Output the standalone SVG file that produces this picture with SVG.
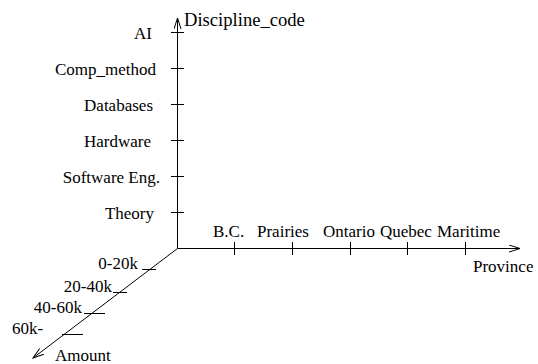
<svg xmlns="http://www.w3.org/2000/svg" width="538" height="364" viewBox="0 0 538 364">
<style>
  .t { font-family: "Liberation Serif", "Times New Roman", serif; font-size: 17px; fill: #000; }
  .big { font-size: 18.6px; }
  .end { text-anchor: end; }
  .ax { stroke: #000; stroke-width: 1; fill: none; }
  .tk { stroke: #000; stroke-width: 1; fill: none; }
</style>
<defs>
  <marker id="arr" viewBox="0 0 12 8" refX="11" refY="4" markerWidth="12" markerHeight="8" markerUnits="userSpaceOnUse" orient="auto">
    <path d="M0,0.5 L11,4 L0,7.5" fill="none" stroke="#000" stroke-width="1"/>
  </marker>
</defs>
<g id="connectors">
  <line class="ax" x1="177.5" y1="248.5" x2="177.5" y2="18" marker-end="url(#arr)"/>
  <line class="ax" x1="177.5" y1="248.5" x2="520" y2="248.5" marker-end="url(#arr)"/>
  <line class="ax" x1="177.5" y1="248.5" x2="33" y2="358" marker-end="url(#arr)"/>
</g>
<g id="axis-discipline">
  <text class="t big" x="184" y="26">Discipline_code</text>
  <g class="tk">
    <line x1="171" y1="32.5" x2="184" y2="32.5"/>
    <line x1="171" y1="68.5" x2="184" y2="68.5"/>
    <line x1="171" y1="104.5" x2="184" y2="104.5"/>
    <line x1="171" y1="140.5" x2="184" y2="140.5"/>
    <line x1="171" y1="176.5" x2="184" y2="176.5"/>
    <line x1="171" y1="212.5" x2="184" y2="212.5"/>
  </g>
  <text class="t end" x="152" y="39">AI</text>
  <text class="t end" x="156" y="75">Comp_method</text>
  <text class="t end" x="153" y="111">Databases</text>
  <text class="t end" x="151" y="147">Hardware</text>
  <text class="t end" x="160" y="183">Software Eng.</text>
  <text class="t end" x="154" y="219">Theory</text>
</g>
<g id="axis-province">
  <g class="tk">
    <line x1="234.5" y1="242" x2="234.5" y2="255"/>
    <line x1="292.5" y1="242" x2="292.5" y2="255"/>
    <line x1="350.5" y1="242" x2="350.5" y2="255"/>
    <line x1="407.5" y1="242" x2="407.5" y2="255"/>
    <line x1="465.5" y1="242" x2="465.5" y2="255"/>
  </g>
  <text class="t" x="213" y="237">B.C.</text>
  <text class="t" x="257" y="237">Prairies</text>
  <text class="t" x="323" y="237">Ontario</text>
  <text class="t" x="380" y="237">Quebec</text>
  <text class="t" x="437" y="237">Maritime</text>
  <text class="t" x="473" y="272">Province</text>
</g>
<g id="axis-amount">
  <g class="tk">
    <line x1="142" y1="269.5" x2="156" y2="269.5"/>
    <line x1="113" y1="292.5" x2="127" y2="292.5"/>
    <line x1="84" y1="313.5" x2="105" y2="313.5"/>
    <line x1="62" y1="334.5" x2="83" y2="334.5"/>
  </g>
  <text class="t end" x="138" y="269">0-20k</text>
  <text class="t end" x="112" y="292">20-40k</text>
  <text class="t end" x="82" y="313">40-60k</text>
  <text class="t" x="12" y="334">60k-</text>
  <text class="t" x="55" y="361">Amount</text>
</g>
</svg>
